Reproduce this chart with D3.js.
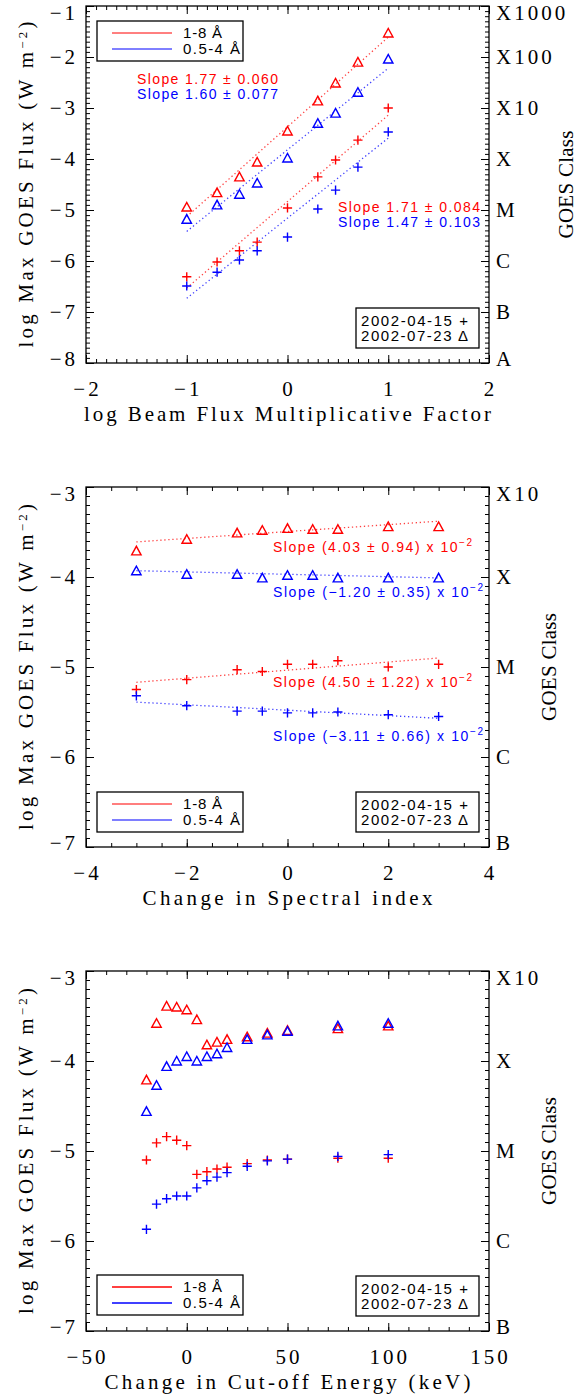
<!DOCTYPE html>
<html>
<head>
<meta charset="utf-8">
<script src="https://cdn.jsdelivr.net/npm/d3@7"></script>
<style>
body { margin: 0; background: #fff; }
svg { display: block; }
</style>
</head>
<body>
<div id="chart"></div>
<script>
var W = 587, H = 1395;
var LEFT = 86, RIGHT = 489;
var RED = "#ff0000", BLUE = "#0000ff";
var SERIF = "'Liberation Serif', 'DejaVu Serif', serif";
var SANS = "'Liberation Sans', Arial, sans-serif";

// ---- panel 1: log beam flux multiplicative factor
var beamX        = [-1, -0.699, -0.477, -0.301, 0, 0.301, 0.477, 0.699, 1];
var beamPlusRed  = [-6.31, -6.02, -5.80, -5.63, -4.96, -4.35, -4.02, -3.63, -3.00];
var beamPlusBlue = [-6.49, -6.22, -5.98, -5.80, -5.53, -4.98, -4.61, -4.16, -3.47];
var beamTriRed   = [-4.94, -4.66, -4.35, -4.06, -3.45, -2.86, -2.51, -2.10, -1.53];
var beamTriBlue  = [-5.18, -4.90, -4.69, -4.47, -3.98, -3.30, -3.10, -2.69, -2.04];
var beamFitX        = [-1, 1];
var beamFitTriRed   = [-5.13, -1.61];
var beamFitTriBlue  = [-5.42, -2.22];
var beamFitPlusRed  = [-6.53, -3.14];
var beamFitPlusBlue = [-6.73, -3.59];
var beamGoesTicks = [-8, -7, -6, -5, -4, -3, -2, -1];
var beamGoesNames = ["A", "B", "C", "M", "X", "X10", "X100", "X1000"];

// ---- panel 2: change in spectral index
var specX        = [-3, -2, -1, -0.5, 0, 0.5, 1, 2, 3];
var specPlusRed  = [-5.25, -5.14, -5.03, -5.05, -4.97, -4.97, -4.93, -5.00, -4.97];
var specPlusBlue = [-5.32, -5.43, -5.49, -5.49, -5.51, -5.51, -5.50, -5.53, -5.55];
var specTriRed   = [-3.71, -3.58, -3.51, -3.48, -3.46, -3.47, -3.47, -3.44, -3.44];
var specTriBlue  = [-3.93, -3.97, -3.97, -4.01, -3.98, -3.98, -4.01, -4.01, -4.01];
var specFitX        = [-3, 3];
var specFitTriRed   = [-3.61, -3.38];
var specFitTriBlue  = [-3.93, -4.01];
var specFitPlusRed  = [-5.17, -4.90];
var specFitPlusBlue = [-5.39, -5.57];

// ---- panel 3: change in cut-off energy
var cutX        = [-20, -15, -10, -5, 0, 5, 10, 15, 20, 30, 40, 50, 75, 100];
var cutPlusRed  = [-5.10, -4.91, -4.84, -4.88, -4.94, -5.26, -5.23, -5.20, -5.18, -5.14, -5.10, -5.09, -5.08, -5.08];
var cutPlusBlue = [-5.87, -5.59, -5.53, -5.50, -5.50, -5.41, -5.33, -5.29, -5.24, -5.17, -5.11, -5.09, -5.06, -5.04];
var cutTriRed   = [-4.21, -3.58, -3.39, -3.40, -3.43, -3.54, -3.82, -3.79, -3.76, -3.73, -3.69, -3.66, -3.64, -3.61];
var cutTriBlue  = [-4.56, -4.27, -4.06, -4.00, -3.95, -4.00, -3.95, -3.92, -3.85, -3.76, -3.71, -3.67, -3.61, -3.58];

var lowGoesTicks = [-7, -6, -5, -4, -3];
var lowGoesNames = ["B", "C", "M", "X", "X10"];

var svg = d3.select("#chart").append("svg")
    .attr("width", W)
    .attr("height", H);

function steps(domain, step) {
    var n = Math.round((domain[1] - domain[0]) / step);
    return d3.range(n + 1).map(function(i) { return +(domain[0] + i * step).toFixed(6); });
}

function plusPath(cx, cy) {
    var r = 4.6;
    return "M" + (cx - r) + "," + cy + "H" + (cx + r) + "M" + cx + "," + (cy - r) + "V" + (cy + r);
}
function triPath(cx, cy) {
    return "M" + (cx - 4.7) + "," + (cy + 4) + "L" + cx + "," + (cy - 4.6) + "L" + (cx + 4.7) + "," + (cy + 4) + "Z";
}

// text with optional superscript parts: [[text, sup?], ...]
function richText(sel, parts, supSize) {
    parts.forEach(function(p, i) {
        var t = sel.append("tspan").text(p[0]);
        if (p[1]) t.attr("font-size", supSize).attr("dy", -6);
        else if (i > 0 && parts[i - 1][1]) t.attr("dy", 6);
    });
}

function drawPanel(p) {
    var x = d3.scaleLinear().domain(p.xDomain).range([LEFT, RIGHT]);
    var y = d3.scaleLinear().domain(p.yDomain).range([p.bottom, p.top]);
    var g = svg.append("g");

    // dotted fit lines
    var line = d3.line()
        .x(function(d) { return x(d[0]); })
        .y(function(d) { return y(d[1]); });
    p.fits.forEach(function(f) {
        g.append("path")
            .datum(d3.zip(f.x, f.y))
            .attr("d", line)
            .attr("fill", "none")
            .attr("stroke", f.color)
            .attr("stroke-width", 1.3)
            .attr("stroke-dasharray", "1.3,2.7")
            .attr("opacity", 0.75);
    });

    // symbols
    p.series.forEach(function(s) {
        g.selectAll(null)
            .data(d3.zip(p.xVals, s.vals))
            .enter().append("path")
            .attr("d", function(d) {
                return s.sym === "plus" ? plusPath(x(d[0]), y(d[1])) : triPath(x(d[0]), y(d[1]));
            })
            .attr("fill", "none")
            .attr("stroke", s.color)
            .attr("stroke-width", 1.4);
    });

    // axes: ticks inward on all four sides
    var xMaj = steps(p.xDomain, p.xMajor), xMin = steps(p.xDomain, p.xMinor);
    var yMaj = steps(p.yDomain, 1), yMin = steps(p.yDomain, 0.1);

    function noDomain(a) { a.select(".domain").remove(); a.selectAll("line").attr("stroke", "#000"); }

    [[d3.axisBottom, p.bottom], [d3.axisTop, p.top]].forEach(function(a) {
        g.append("g").attr("transform", "translate(0," + a[1] + ")")
            .call(a[0](x).tickValues(xMin).tickSize(-4).tickFormat("")).call(noDomain);
        g.append("g").attr("transform", "translate(0," + a[1] + ")")
            .call(a[0](x).tickValues(xMaj).tickSize(-8).tickFormat("")).call(noDomain);
    });
    [[d3.axisLeft, LEFT], [d3.axisRight, RIGHT]].forEach(function(a) {
        g.append("g").attr("transform", "translate(" + a[1] + ",0)")
            .call(a[0](y).tickValues(yMin).tickSize(-4).tickFormat("")).call(noDomain);
        g.append("g").attr("transform", "translate(" + a[1] + ",0)")
            .call(a[0](y).tickValues(yMaj).tickSize(-8).tickFormat("")).call(noDomain);
    });

    g.append("rect")
        .attr("x", LEFT).attr("y", p.top)
        .attr("width", RIGHT - LEFT).attr("height", p.bottom - p.top)
        .attr("fill", "none").attr("stroke", "#000").attr("stroke-width", 1.3);

    // tick labels
    var fmt = d3.format("d");
    g.selectAll(null).data(xMaj).enter().append("text")
        .attr("x", function(d) { return x(d) + 1.5; })
        .attr("y", p.bottom + 26)
        .attr("dy", "0.35em")
        .attr("text-anchor", "middle")
        .attr("font-family", SERIF).attr("font-size", 21).attr("letter-spacing", 3)
        .text(function(d) { return fmt(d); });

    function clampY(v) { return Math.min(Math.max(y(v), p.top + 7), p.bottom - 4); }

    g.selectAll(null).data(yMaj).enter().append("text")
        .attr("x", LEFT - 8)
        .attr("y", clampY)
        .attr("dy", "0.35em")
        .attr("text-anchor", "end")
        .attr("font-family", SERIF).attr("font-size", 21).attr("letter-spacing", 3)
        .text(function(d) { return fmt(d); });

    g.selectAll(null).data(d3.zip(p.goesTicks, p.goesNames)).enter().append("text")
        .attr("x", RIGHT + 7)
        .attr("y", function(d) { return clampY(d[0]); })
        .attr("dy", "0.35em")
        .attr("font-family", SERIF).attr("font-size", 21).attr("letter-spacing", 3)
        .text(function(d) { return d[1]; });

    // axis titles
    g.append("text")
        .attr("x", (LEFT + RIGHT) / 2)
        .attr("y", p.bottom + 51)
        .attr("dy", "0.35em")
        .attr("text-anchor", "middle")
        .attr("font-family", SERIF).attr("font-size", 21)
        .attr("textLength", p.xTitleLen).attr("lengthAdjust", "spacing")
        .text(p.xTitle);

    var mid = (p.top + p.bottom) / 2;
    var yt = g.append("text")
        .attr("transform", "translate(26," + mid + ") rotate(-90)")
        .attr("y", 7)
        .attr("text-anchor", "middle")
        .attr("font-family", SERIF).attr("font-size", 21)
        .attr("textLength", 326).attr("lengthAdjust", "spacing");
    richText(yt, [["log Max GOES Flux (W m"], ["\u22122", true], [")"]], 13);

    g.append("text")
        .attr("transform", "translate(" + p.goesTitleX + "," + mid + ") rotate(-90)")
        .attr("y", 7)
        .attr("text-anchor", "middle")
        .attr("font-family", SERIF).attr("font-size", 21)
        .attr("textLength", 108).attr("lengthAdjust", "spacing")
        .text("GOES Class");

    // wavelength legend
    var lg = p.legendTop;
    g.append("rect")
        .attr("x", 97).attr("y", lg).attr("width", 146).attr("height", 40)
        .attr("fill", "#fff").attr("stroke", "#000").attr("stroke-width", 1.3);
    [["1-8 \u00c5", RED, 39], ["0.5-4 \u00c5", BLUE, 57]].forEach(function(l, i) {
        var ly = lg + 12 + i * 16;
        g.append("line")
            .attr("x1", 112).attr("x2", 172).attr("y1", ly).attr("y2", ly)
            .attr("stroke", l[1]).attr("stroke-width", p.legendLineW).attr("opacity", p.legendLineOp);
        g.append("text")
            .attr("x", 183).attr("y", ly + 5)
            .attr("font-family", SANS).attr("font-size", 15)
            .attr("textLength", l[2]).attr("lengthAdjust", "spacing")
            .text(l[0]);
    });

    // date legend
    var db = p.bottom - 55;
    g.append("rect")
        .attr("x", 356).attr("y", db).attr("width", 123).attr("height", 40)
        .attr("fill", "#fff").attr("stroke", "#000").attr("stroke-width", 1.3);
    ["2002-04-15 +", "2002-07-23 \u0394"].forEach(function(t, i) {
        g.append("text")
            .attr("x", 361).attr("y", db + 13 + i * 15 + 5)
            .attr("font-family", SANS).attr("font-size", 15)
            .attr("textLength", 107).attr("lengthAdjust", "spacing")
            .text(t);
    });

    // slope annotations
    p.slopes.forEach(function(s) {
        var t = g.append("text")
            .attr("x", s.x).attr("y", s.y + 5)
            .attr("fill", s.color)
            .attr("font-family", SANS).attr("font-size", 14)
            .attr("textLength", s.len).attr("lengthAdjust", "spacing");
        richText(t, s.parts, 10);
    });
}

var panels = [
    {
        top: 6, bottom: 363, xDomain: [-2, 2], yDomain: [-8, -1], xMajor: 1, xMinor: 0.1,
        xTitle: "log Beam Flux Multiplicative Factor", xTitleLen: 407,
        xVals: beamX,
        series: [
            { vals: beamTriRed, sym: "tri", color: RED },
            { vals: beamTriBlue, sym: "tri", color: BLUE },
            { vals: beamPlusRed, sym: "plus", color: RED },
            { vals: beamPlusBlue, sym: "plus", color: BLUE }
        ],
        fits: [
            { x: beamFitX, y: beamFitTriRed, color: RED },
            { x: beamFitX, y: beamFitTriBlue, color: BLUE },
            { x: beamFitX, y: beamFitPlusRed, color: RED },
            { x: beamFitX, y: beamFitPlusBlue, color: BLUE }
        ],
        goesTicks: beamGoesTicks, goesNames: beamGoesNames, goesTitleX: 566,
        legendTop: 21, legendLineW: 1, legendLineOp: 1,
        slopes: [
            { x: 137, y: 79, color: RED, len: 141, parts: [["Slope 1.77 \u00b1 0.060"]] },
            { x: 137, y: 94, color: BLUE, len: 141, parts: [["Slope 1.60 \u00b1 0.077"]] },
            { x: 338, y: 207, color: RED, len: 142, parts: [["Slope 1.71 \u00b1 0.084"]] },
            { x: 338, y: 222, color: BLUE, len: 142, parts: [["Slope 1.47 \u00b1 0.103"]] }
        ]
    },
    {
        top: 487, bottom: 847, xDomain: [-4, 4], yDomain: [-7, -3], xMajor: 2, xMinor: 0.5,
        xTitle: "Change in Spectral index", xTitleLen: 290,
        xVals: specX,
        series: [
            { vals: specTriRed, sym: "tri", color: RED },
            { vals: specTriBlue, sym: "tri", color: BLUE },
            { vals: specPlusRed, sym: "plus", color: RED },
            { vals: specPlusBlue, sym: "plus", color: BLUE }
        ],
        fits: [
            { x: specFitX, y: specFitTriRed, color: RED },
            { x: specFitX, y: specFitTriBlue, color: BLUE },
            { x: specFitX, y: specFitPlusRed, color: RED },
            { x: specFitX, y: specFitPlusBlue, color: BLUE }
        ],
        goesTicks: lowGoesTicks, goesNames: lowGoesNames, goesTitleX: 549,
        legendTop: 792, legendLineW: 2, legendLineOp: 0.5,
        slopes: [
            { x: 273, y: 547, color: RED, len: 199, parts: [["Slope (4.03 \u00b1 0.94) x 10"], ["\u22122", true]] },
            { x: 273, y: 592, color: BLUE, len: 210, parts: [["Slope (\u22121.20 \u00b1 0.35) x 10"], ["\u22122", true]] },
            { x: 273, y: 682, color: RED, len: 199, parts: [["Slope (4.50 \u00b1 1.22) x 10"], ["\u22122", true]] },
            { x: 273, y: 736, color: BLUE, len: 210, parts: [["Slope (\u22123.11 \u00b1 0.66) x 10"], ["\u22122", true]] }
        ]
    },
    {
        top: 971, bottom: 1331, xDomain: [-50, 150], yDomain: [-7, -3], xMajor: 50, xMinor: 10,
        xTitle: "Change in Cut-off Energy (keV)", xTitleLen: 366,
        xVals: cutX,
        series: [
            { vals: cutTriRed, sym: "tri", color: RED },
            { vals: cutTriBlue, sym: "tri", color: BLUE },
            { vals: cutPlusRed, sym: "plus", color: RED },
            { vals: cutPlusBlue, sym: "plus", color: BLUE }
        ],
        fits: [],
        goesTicks: lowGoesTicks, goesNames: lowGoesNames, goesTitleX: 549,
        legendTop: 1275, legendLineW: 1.3, legendLineOp: 1,
        slopes: []
    }
];

panels.forEach(drawPanel);
</script>
</body>
</html>
